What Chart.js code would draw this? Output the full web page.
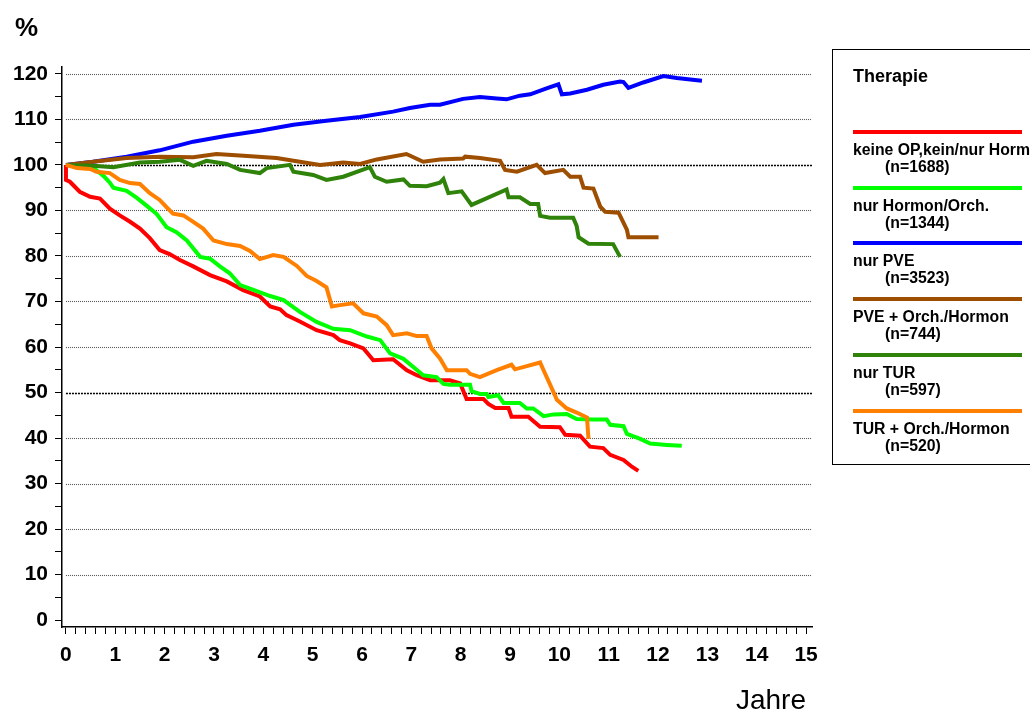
<!DOCTYPE html>
<html>
<head>
<meta charset="utf-8">
<title>Therapie – Verlauf in Jahren</title>
<script src="https://cdn.jsdelivr.net/npm/chart.js@4.4.1/dist/chart.umd.min.js"></script>
<style>
  html, body { margin: 0; padding: 0; background: #fff; }
  canvas { display: block; }
</style>
</head>
<body>
<canvas id="km" width="1030" height="711"></canvas>
<script>
// Axis ticks
const xMajorTicks = [0, 1, 2, 3, 4, 5, 6, 7, 8, 9, 10, 11, 12, 13, 14, 15];
const xMinorPerMajor = 5;
const yMajorTicks = [0, 10, 20, 30, 40, 50, 60, 70, 80, 90, 100, 110, 120];
const yMinorStep = 5;

// Legend content
const legendTitle = 'Therapie';
const seriesNames = ['keine OP,kein/nur Hormon', 'nur Hormon/Orch.', 'nur PVE', 'PVE + Orch./Hormon', 'nur TUR', 'TUR + Orch./Hormon'];
const seriesN = [1688, 1344, 3523, 744, 597, 520];

// keine OP, kein/nur Hormon
const keineOpJahre = [0, 0, 0.08, 0.28, 0.49, 0.69, 0.89, 1.09, 1.3, 1.5, 1.7, 1.9, 2.1, 2.31, 2.58, 2.92, 3.26, 3.59, 3.93, 4.14, 4.34, 4.47, 4.74, 5.08, 5.42, 5.55, 5.76, 6.03, 6.23, 6.63, 6.91, 7.11, 7.38, 7.78, 7.99, 8.12, 8.46, 8.56, 8.7, 8.97, 9.03, 9.37, 9.61, 10.01, 10.12, 10.42, 10.62, 10.89, 11.03, 11.3, 11.47, 11.6];
const keineOpWert  = [100, 96.7, 96.3, 94.1, 93, 92.6, 90.4, 88.9, 87.5, 86, 83.9, 81.3, 80.4, 79.1, 77.7, 75.8, 74.4, 72.5, 71.1, 68.9, 68.3, 67, 65.6, 63.7, 62.6, 61.5, 60.8, 59.7, 57.1, 57.3, 54.9, 53.8, 52.7, 52.7, 52, 48.6, 48.6, 47.5, 46.6, 46.6, 44.7, 44.7, 42.5, 42.4, 40.7, 40.5, 38.1, 37.8, 36.3, 35.2, 33.7, 32.8];

// nur Hormon/Orch.
const hormonJahre = [0, 0.3, 0.55, 0.76, 0.89, 0.96, 1.23, 1.43, 1.64, 1.84, 2.04, 2.24, 2.45, 2.72, 2.92, 3.12, 3.32, 3.53, 3.73, 4.14, 4.41, 4.74, 5.08, 5.42, 5.76, 6.1, 6.37, 6.57, 6.84, 7.04, 7.24, 7.51, 7.65, 7.78, 8.19, 8.22, 8.39, 8.53, 8.56, 8.76, 8.87, 9.2, 9.34, 9.47, 9.68, 9.88, 10.15, 10.35, 10.69, 10.96, 11.03, 11.3, 11.37, 11.64, 11.84, 12.18, 12.48];
const hormonWert  = [100, 99.8, 99.4, 97.6, 96.1, 95, 94.3, 92.8, 91, 89.2, 86.3, 85.2, 83.4, 79.8, 79.4, 77.7, 76.2, 73.6, 72.8, 71.2, 70.3, 67.7, 65.5, 64, 63.7, 62.3, 61.5, 58.6, 57.4, 55.6, 53.8, 53.4, 51.9, 51.7, 51.7, 50.3, 49.7, 49.7, 49, 49.4, 47.7, 47.7, 46.5, 46.5, 44.8, 45.2, 45.3, 44.2, 44.1, 44.1, 42.9, 42.6, 40.9, 39.8, 38.8, 38.5, 38.3];

// nur PVE
const pveJahre = [0, 0.55, 1.23, 1.9, 2.58, 3.26, 3.93, 4.61, 5.28, 5.96, 6.63, 6.97, 7.38, 7.58, 8.05, 8.39, 8.73, 8.93, 9.2, 9.41, 9.74, 9.98, 10.05, 10.22, 10.56, 10.89, 11.23, 11.3, 11.4, 11.7, 12.11, 12.38, 12.79, 12.89];
const pveWert  = [100, 100.7, 101.8, 103.2, 105.1, 106.4, 107.5, 108.8, 109.7, 110.5, 111.7, 112.5, 113.2, 113.2, 114.5, 114.9, 114.6, 114.4, 115.2, 115.5, 116.8, 117.7, 115.5, 115.7, 116.5, 117.6, 118.3, 118.2, 116.9, 118.1, 119.5, 119.1, 118.6, 118.5];

// PVE + Orch./Hormon
const pveHormonJahre = [0, 0.55, 1.23, 1.9, 2.58, 3.05, 3.6, 4.27, 4.74, 5.15, 5.62, 5.96, 6.3, 6.9, 7.24, 7.58, 8.05, 8.09, 8.39, 8.8, 8.9, 9.14, 9.54, 9.71, 10.08, 10.22, 10.42, 10.49, 10.69, 10.83, 10.93, 11.2, 11.37, 11.4, 12.01];
const pveHormonWert  = [100, 100.7, 101.5, 101.8, 101.7, 102.4, 102, 101.5, 100.7, 100, 100.5, 100.2, 101.2, 102.4, 100.7, 101.2, 101.4, 101.8, 101.5, 100.9, 98.9, 98.5, 100, 98.2, 98.9, 97.4, 97.4, 95, 94.8, 90.8, 89.7, 89.5, 85.7, 84.1, 84.1];

// nur TUR
const turJahre = [0, 0.55, 0.96, 1.5, 1.9, 2.31, 2.58, 2.85, 3.26, 3.53, 3.93, 4.07, 4.54, 4.61, 5.01, 5.28, 5.62, 6.16, 6.26, 6.5, 6.84, 6.97, 7.31, 7.58, 7.65, 7.75, 8.02, 8.22, 8.93, 8.97, 9.2, 9.41, 9.57, 9.61, 9.81, 10.28, 10.35, 10.39, 10.59, 11.09, 11.23];
const turWert  = [100, 99.8, 99.5, 100.5, 100.7, 101.1, 99.8, 100.9, 100.2, 98.9, 98.2, 99.3, 100, 98.5, 97.8, 96.7, 97.4, 99.5, 97.4, 96.3, 96.8, 95.4, 95.3, 96.1, 96.9, 93.8, 94.2, 91.2, 94.6, 92.9, 92.9, 91.4, 91.4, 88.8, 88.4, 88.4, 86.6, 84.1, 82.7, 82.6, 79.8];

// TUR + Orch./Hormon
const turHormonJahre = [0, 0.22, 0.49, 0.62, 0.89, 1.09, 1.3, 1.5, 1.7, 1.9, 2.04, 2.17, 2.38, 2.58, 2.78, 2.99, 3.26, 3.53, 3.73, 3.93, 4.2, 4.41, 4.68, 4.88, 5.08, 5.28, 5.39, 5.55, 5.82, 6.03, 6.3, 6.5, 6.63, 6.91, 7.11, 7.31, 7.41, 7.58, 7.72, 8.12, 8.19, 8.39, 8.73, 9.03, 9.1, 9.34, 9.61, 9.68, 9.81, 9.95, 10.15, 10.35, 10.56, 10.59];
const turHormonWert  = [100, 99.3, 99.1, 98.5, 98.2, 96.7, 96, 95.8, 93.8, 92.3, 90.7, 89.3, 88.9, 87.5, 86, 83.4, 82.6, 82.2, 81.1, 79.3, 80.2, 79.8, 77.8, 75.6, 74.5, 73.1, 68.9, 69.2, 69.6, 67.4, 66.7, 64.8, 62.6, 63, 62.4, 62.4, 59.7, 57.5, 54.9, 54.9, 54.1, 53.4, 54.9, 56.1, 55.1, 55.8, 56.6, 54.9, 51.8, 48.4, 46.5, 45.6, 44.5, 39.8];

const seriesColors = ['#ff0000', '#00ff00', '#0000ff', '#9e4e00', '#2f820a', '#ff8000'];
const seriesData = [
  [keineOpJahre, keineOpWert],
  [hormonJahre, hormonWert],
  [pveJahre, pveWert],
  [pveHormonJahre, pveHormonWert],
  [turJahre, turWert],
  [turHormonJahre, turHormonWert]
];

const FONT = '"Liberation Sans", Arial, Helvetica, sans-serif';

const xTickValues = [];
for (let i = 0; i <= xMajorTicks[xMajorTicks.length - 1] * xMinorPerMajor; i++) xTickValues.push(i / xMinorPerMajor);
const yTickValues = [];
for (let v = yMajorTicks[0]; v <= yMajorTicks[yMajorTicks.length - 1]; v += yMinorStep) yTickValues.push(v);

const datasets = seriesData.map(([t, v], i) => ({
  label: seriesNames[i],
  data: t.map((tt, k) => ({ x: tt, y: v[k] })),
  borderColor: seriesColors[i],
  backgroundColor: seriesColors[i],
  borderWidth: 4,
  pointRadius: 0,
  tension: 0,
  fill: false,
  order: seriesData.length - i
}));

// dotted reference lines, axis captions and the boxed legend
const decor = {
  id: 'decor',
  beforeDatasetsDraw(chart) {
    const { ctx, chartArea, scales: { x, y } } = chart;
    ctx.save();
    yMajorTicks.filter(v => v > 0).forEach(v => {
      const py = Math.round(y.getPixelForValue(v)) + 0.5;
      const strong = v === 50 || v === 100;
      ctx.strokeStyle = strong ? '#000' : '#555';
      ctx.lineWidth = strong ? 1.6 : 1.1;
      ctx.setLineDash(strong ? [2, 1] : [1, 1]);
      ctx.beginPath();
      ctx.moveTo(x.getPixelForValue(0), py);
      ctx.lineTo(chartArea.right, py);
      ctx.stroke();
    });
    ctx.restore();
  },
  afterDraw(chart) {
    const ctx = chart.ctx;
    ctx.save();
    ctx.fillStyle = '#000';
    ctx.textBaseline = 'alphabetic';
    ctx.textAlign = 'left';
    ctx.font = 'bold 26px ' + FONT;
    ctx.fillText('%', 15, 36);
    ctx.font = '28px ' + FONT;
    ctx.textAlign = 'right';
    ctx.fillText('Jahre', 806, 709);

    // legend box (right side runs past the canvas edge)
    ctx.textAlign = 'left';
    ctx.strokeStyle = '#000';
    ctx.lineWidth = 1;
    ctx.strokeRect(832.5, 49.5, 400, 415);
    ctx.font = 'bold 18px ' + FONT;
    ctx.fillText(legendTitle, 853, 82);
    chart.data.datasets.forEach((ds, i) => {
      const ly = Math.round(132 + i * 55.7);
      ctx.strokeStyle = ds.borderColor;
      ctx.lineWidth = 4;
      ctx.beginPath();
      ctx.moveTo(853, ly);
      ctx.lineTo(1022, ly);
      ctx.stroke();
      ctx.font = 'bold 15.8px ' + FONT;
      ctx.fillText(seriesNames[i], 853, ly + 23);
      ctx.fillText('(n=' + seriesN[i] + ')', 885, ly + 40);
    });
    ctx.restore();
  }
};

const tickFont = { family: FONT, size: 21, weight: 'bold' };

new Chart(document.getElementById('km'), {
  type: 'line',
  data: { datasets },
  options: {
    responsive: false,
    animation: false,
    devicePixelRatio: 1,
    layout: { padding: { left: 0, top: 67, right: 218, bottom: 0 } },
    plugins: { legend: { display: false }, tooltip: { enabled: false } },
    elements: { line: { borderCapStyle: 'butt', borderJoinStyle: 'miter' } },
    scales: {
      x: {
        type: 'linear',
        min: -0.08,
        max: 15.12,
        afterBuildTicks: s => { s.ticks = xTickValues.map(v => ({ value: v })); },
        afterFit: s => { s.height = 84; },
        ticks: {
          autoSkip: false, maxRotation: 0, padding: 9, color: '#000', font: tickFont,
          callback: v => (xMajorTicks.includes(v) ? String(v) : '')
        },
        grid: { drawOnChartArea: false, drawTicks: true, tickLength: 7, tickColor: '#000', tickWidth: 1 },
        border: { display: true, color: '#000', width: 1.5 }
      },
      y: {
        type: 'linear',
        min: -1.5,
        max: 121.5,
        afterBuildTicks: s => { s.ticks = yTickValues.map(v => ({ value: v })); },
        afterFit: s => { s.width = 62; },
        ticks: {
          autoSkip: false, padding: 7, color: '#000', font: tickFont,
          callback: v => (yMajorTicks.includes(v) ? String(v) : '')
        },
        grid: { drawOnChartArea: false, drawTicks: true, tickLength: 7, tickColor: '#000', tickWidth: 1 },
        border: { display: true, color: '#000', width: 1.5 }
      }
    }
  },
  plugins: [decor]
});
</script>
</body>
</html>
